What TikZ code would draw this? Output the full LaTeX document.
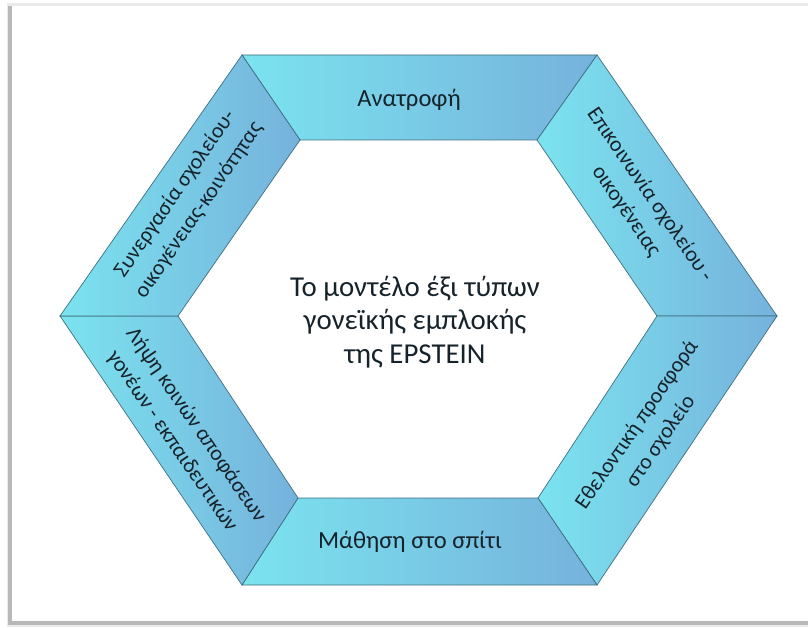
\documentclass[tikz,border=0pt]{standalone}
\usepackage{fontspec}
\setmainfont{Carlito}
\usepackage{tikz}

\definecolor{cyanclair}{HTML}{7BE3EF}
\definecolor{bleufonce}{HTML}{76B2DC}
\definecolor{bord}{HTML}{3F6F80}
\definecolor{texte}{HTML}{17232B}

\tikzset{
  segment/.style={left color=cyanclair, right color=bleufonce, draw=bord, line width=0.5pt},
  seglabel/.style={text=texte, align=center, font=\fontsize{17.5}{21}\selectfont},
  sidelabel/.style={seglabel, font=\fontsize{15.5}{20.5}\selectfont}
}

\begin{document}
\begin{tikzpicture}[x=0.025cm, y=-0.025cm]
 \useasboundingbox (0,0) rectangle (808,628);

	% Cadre
 \fill[black!8] (7,3) rectangle (808,627);
 \fill[black!28] (8,6) rectangle (808,625);
 \fill[white] (12,6) rectangle (808,621);

	% Sommets de l'hexagone
 \coordinate (o1) at (242,55);
 \coordinate (o2) at (597,55);
 \coordinate (o3) at (777,316);
 \coordinate (o4) at (597,585);
 \coordinate (o5) at (242,585);
 \coordinate (o6) at (60,316);
 \coordinate (i1) at (300,140);
 \coordinate (i2) at (537,140);
 \coordinate (i3) at (657,316);
 \coordinate (i4) at (538,498);
 \coordinate (i5) at (298,498);
 \coordinate (i6) at (178,316);

	% Segments
 \shadedraw[segment] (o1) -- (o2) -- (i2) -- (i1) -- cycle;
 \shadedraw[segment] (o2) -- (o3) -- (i3) -- (i2) -- cycle;
 \shadedraw[segment] (o3) -- (o4) -- (i4) -- (i3) -- cycle;
 \shadedraw[segment] (o4) -- (o5) -- (i5) -- (i4) -- cycle;
 \shadedraw[segment] (o5) -- (o6) -- (i6) -- (i5) -- cycle;
 \shadedraw[segment] (o6) -- (o1) -- (i1) -- (i6) -- cycle;

	% Textes
 \node[seglabel] (anatrofi) at (409,100) {Ανατροφή};
 \node[sidelabel, rotate=-55.5] (epikoinonia) at (638,203) {Επικοινωνία σχολείου -\\οικογένειας};
 \node[sidelabel, rotate=55.5] (ethelontiki) at (649,433) {Εθελοντική προσφορά\\στο σχολείο};
 \node[seglabel] (mathisi) at (410,542) {Μάθηση στο σπίτι};
 \node[sidelabel, rotate=-55.5] (lipsi) at (184,433) {Λήψη κοινών αποφάσεων\\γονέων - εκπαιδευτικών};
 \node[sidelabel, rotate=55.5] (synergasia) at (187,202) {Συνεργασία σχολείου-\\οικογένειας-κοινότητας};

 \node[seglabel, font=\fontsize{20.5}{24}\selectfont] (titre) at (415,322) {Το μοντέλο έξι τύπων\\γονεϊκής εμπλοκής\\της EPSTEIN};

\end{tikzpicture}
\end{document}
